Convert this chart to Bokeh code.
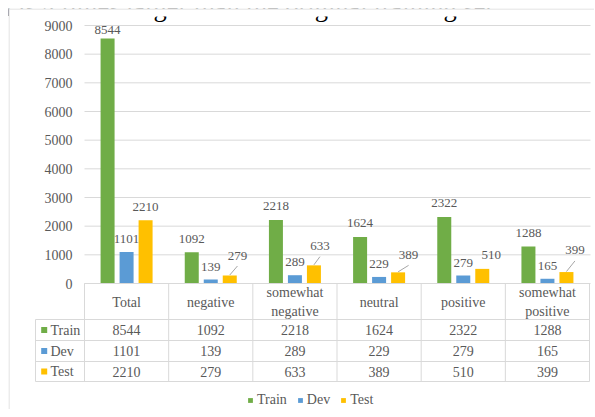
from bokeh.plotting import figure
from bokeh.models import Range1d, Legend, LegendItem, Label, Span, BoxAnnotation
from bokeh.core.properties import value
from bokeh.embed import file_html
from bokeh.resources import INLINE

# ---------------- data ----------------
categories = ["Total", "negative", "somewhat\nnegative", "neutral", "positive", "somewhat\npositive"]
series = ["Train", "Dev", "Test"]
train = [8544, 1092, 2218, 1624, 2322, 1288]
dev = [1101, 139, 289, 229, 279, 165]
test = [2210, 279, 633, 389, 510, 399]
y_ticks = [0, 1000, 2000, 3000, 4000, 5000, 6000, 7000, 8000, 9000]
caption = "a is 4 times larger than the original training set."

# ---------------- styles / placement ----------------
colors = ["#70AD47", "#5B9BD5", "#FFC000"]
train_label_up = [8.8, 13.5, 13.5, 13.5, 13.5, 13.5]
dev_label_up = [13, 13, 13, 13, 13, 13]
test_label_up = [13.6, 20, 19.2, 17.5, 13.4, 21.6]
test_label_dx = [0, 7.7, 6, 10.5, 9, 8.5]
test_leader = [False, True, True, True, False, True]

FONT = "Liberation Serif"
TXT = "#595959"
GRID = "#D9D9D9"

# page-pixel layout
COL0 = 84.0
COLW = 84.17
ZERO = 283.0
TOPTICK = 25.0
KX = COLW
KY = (ZERO - TOPTICK) / 9000.0


def X(px):
    return (px - COL0) / KX


def Y(py):
    return (ZERO - py) / KY


p = figure(width=594, height=417,
           x_range=Range1d(X(8), X(594)), y_range=Range1d(Y(409), Y(8)),
           x_axis_type=None, y_axis_type=None,
           output_backend="svg", toolbar_location=None,
           min_border_left=8, min_border_right=0, min_border_top=16, min_border_bottom=0,
           outline_line_color=None, background_fill_color="white", border_fill_color="white",
           styles={"margin-top": "-8px"})

# gridlines
n = len(y_ticks)
p.segment(x0=[X(84)] * n, x1=[X(590)] * n, y0=y_ticks, y1=y_ticks, line_color=GRID, line_width=1)

# y tick labels
p.text(x=[X(72)] * n, y=y_ticks, text=[str(t) for t in y_ticks],
       text_align="right", text_baseline="middle",
       text_font=value(FONT), text_font_size="14px", text_color=TXT)

# bars
offsets = [-19.0 / KX, 0.0, 19.0 / KX]
all_vals = [train, dev, test]
ups = [train_label_up, dev_label_up, test_label_up]
dxs = [[0] * 6, [0] * 6, test_label_dx]
renderers = []
for s, vals, off, col, up, dx in zip(series, all_vals, offsets, colors, ups, dxs):
    xs = [i + 0.5 + off for i in range(len(categories))]
    r = p.vbar(x=xs, top=vals, bottom=0, width=14.0 / KX, fill_color=col, line_color=None)
    renderers.append(r)
    p.text(x=xs, y=vals, text=[str(v) for v in vals],
           x_offset=dx, y_offset=[-u for u in up],
           text_align="center", text_baseline="middle",
           text_font=value(FONT), text_font_size="13px", text_color=TXT)

# leader lines for Test labels
xt = [i + 0.5 + offsets[2] for i in range(len(categories))]
lx0, ly0, lx1, ly1 = [], [], [], []
for i, flag in enumerate(test_leader):
    if flag:
        lx0.append(xt[i])
        ly0.append(test[i] + 0.5 / KY)
        lx1.append(xt[i] + test_label_dx[i] / KX)
        ly1.append(test[i] + (test_label_up[i] - 10.5) / KY)
p.segment(x0=lx0, y0=ly0, x1=lx1, y1=ly1, line_color="#A6A6A6", line_width=1)

# data table
TBL = "#D9D9D9"
ncat = len(categories)
right = X(COL0 + ncat * COLW)
row_lines = [319, 340, 361, 381]
p.segment(x0=[0], x1=[right], y0=[0], y1=[0], line_color=TBL)
p.segment(x0=[X(35)] * 4, x1=[right] * 4, y0=[Y(v) for v in row_lines], y1=[Y(v) for v in row_lines],
          line_color=TBL)
p.segment(x0=[X(35)], x1=[X(35)], y0=[Y(319)], y1=[Y(381)], line_color=TBL)
p.segment(x0=list(range(ncat + 1)), x1=list(range(ncat + 1)), y0=[0] * (ncat + 1), y1=[Y(381)] * (ncat + 1),
          line_color=TBL)

# header
p.text(x=[i + 0.5 for i in range(ncat)], y=[Y(301.5)] * ncat, text=categories,
       text_align="center", text_baseline="middle", text_line_height=1.25,
       text_font=value(FONT), text_font_size="14px", text_color=TXT)

row_centers = [329.5, 350.5, 371]
p.rect(x=[X(43.7)] * 3, y=[Y(v) for v in row_centers], width=6, height=6,
       width_units="screen", height_units="screen", fill_color=colors, line_color=None)
p.text(x=[X(50)] * 3, y=[Y(v) for v in row_centers], text=series,
       text_align="left", text_baseline="middle",
       text_font=value(FONT), text_font_size="14px", text_color=TXT)
for vals, rc in zip(all_vals, row_centers):
    p.text(x=[i + 0.5 for i in range(ncat)], y=[Y(rc)] * ncat, text=[str(v) for v in vals],
           text_align="center", text_baseline="middle",
           text_font=value(FONT), text_font_size="14px", text_color=TXT)

# legend
legend = Legend(items=[LegendItem(label=s, renderers=[r]) for s, r in zip(series, renderers)],
                location=(239, 1), orientation="horizontal",
                glyph_width=6, glyph_height=6, label_standoff=4, spacing=10,
                padding=0, margin=0, border_line_color=None, background_fill_alpha=0,
                label_text_font=FONT, label_text_font_size="14px", label_text_color=TXT,
                label_height=14)
p.add_layout(legend)

# clipped caption of the surrounding page
p.add_layout(Label(x=X(-1), y=Y(6.5), text=caption, text_font=FONT, text_font_size="26.5px",
                   text_color="black", text_baseline="alphabetic", text_align="left"))
p.add_layout(BoxAnnotation(left=X(8), right=X(594), top=Y(7), bottom=Y(16),
                           fill_color="white", fill_alpha=1, line_color=None))
p.add_layout(Span(location=Y(8.5), dimension="width", line_color=GRID, line_width=1))
p.add_layout(Span(location=X(8.5), dimension="height", line_color=GRID, line_width=1))

open("out.html", "w").write(file_html(p, INLINE))
